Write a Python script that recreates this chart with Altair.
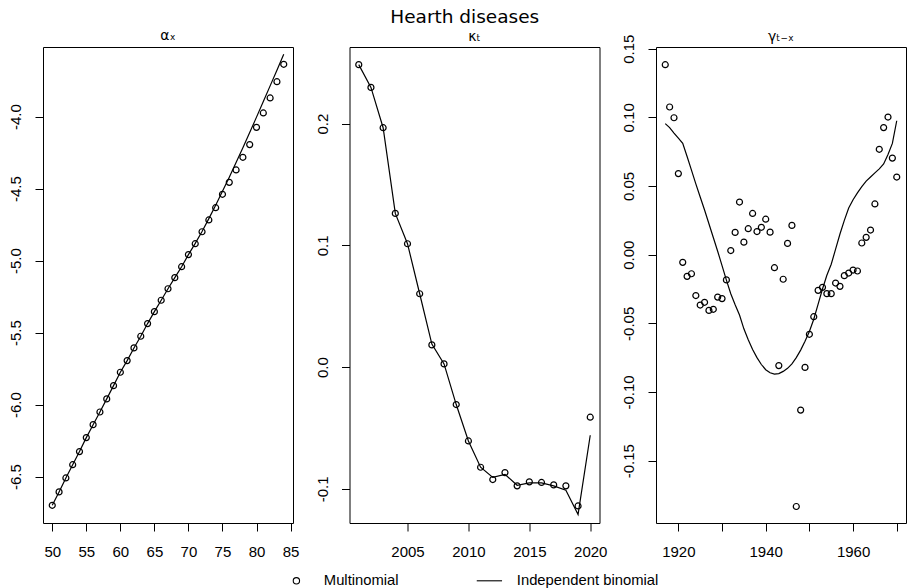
import altair as alt
import pandas as pd

# ---- data ----
ages = list(range(50, 85))
alpha_multinomial = [-6.699, -6.606, -6.509, -6.417, -6.326, -6.229, -6.139, -6.051, -5.960, -5.868,
                     -5.775, -5.694, -5.606, -5.525, -5.437, -5.354, -5.275, -5.195, -5.118, -5.042,
                     -4.958, -4.882, -4.799, -4.717, -4.632, -4.539, -4.456, -4.370, -4.282, -4.194,
                     -4.074, -3.974, -3.870, -3.757, -3.636]
alpha_binomial = [-6.699, -6.606, -6.509, -6.417, -6.326, -6.229, -6.139, -6.051, -5.960, -5.868,
                  -5.775, -5.694, -5.606, -5.525, -5.437, -5.354, -5.275, -5.195, -5.118, -5.042,
                  -4.958, -4.880, -4.797, -4.708, -4.615, -4.518, -4.420, -4.318, -4.215, -4.110,
                  -4.003, -3.895, -3.786, -3.677, -3.567]

years = list(range(2001, 2021))
kappa_multinomial = [0.2485, 0.2298, 0.1967, 0.1263, 0.1014, 0.0603, 0.0183, 0.0027, -0.0307, -0.0606,
                     -0.0822, -0.0923, -0.0866, -0.0975, -0.0942, -0.0947, -0.0967, -0.0975, -0.1140, -0.0411]
kappa_binomial = [0.2485, 0.2298, 0.1967, 0.1263, 0.1014, 0.0603, 0.0190, 0.0027, -0.0307, -0.0606,
                  -0.0822, -0.0905, -0.0880, -0.0970, -0.0950, -0.0950, -0.0975, -0.1010, -0.1210, -0.0559]

cohorts = list(range(1917, 1971))
gamma_multinomial = [0.1383, 0.1075, 0.0997, 0.0590, -0.0056, -0.0158, -0.0139, -0.0298, -0.0367, -0.0347,
                     -0.0406, -0.0398, -0.0309, -0.0320, -0.0184, 0.0030, 0.0162, 0.0383, 0.0091, 0.0189,
                     0.0300, 0.0168, 0.0199, 0.0258, 0.0164, -0.0095, -0.0808, -0.0179, 0.0082, 0.0213,
                     -0.1834, -0.1132, -0.0821, -0.0580, -0.0452, -0.0260, -0.0238, -0.0284, -0.0284, -0.0207,
                     -0.0231, -0.0153, -0.0134, -0.0112, -0.0119, 0.0085, 0.0126, 0.0179, 0.0369, 0.0767,
                     0.0925, 0.1002, 0.0703, 0.0565]
gamma_binomial = [0.0954, 0.0925, 0.0885, 0.0848, 0.0810, 0.0715, 0.0615, 0.0515, 0.0420, 0.0325,
                  0.0225, 0.0125, 0.0025, -0.0080, -0.0185, -0.0285, -0.0365, -0.0440, -0.0540, -0.0620,
                  -0.0690, -0.0750, -0.0800, -0.0838, -0.0860, -0.0870, -0.0866, -0.0850, -0.0828, -0.0795,
                  -0.0750, -0.0695, -0.0630, -0.0560, -0.0470, -0.0360, -0.0250, -0.0150, -0.0070, 0.0040,
                  0.0150, 0.0250, 0.0340, 0.0400, 0.0450, 0.0495, 0.0535, 0.0565, 0.0595, 0.0625,
                  0.0660, 0.0730, 0.0810, 0.0975]

SERIES = ["Multinomial", "Independent binomial"]
MINUS_FIX = "replace(datum.label, '\u2212', '-')"

shape_scale = alt.Scale(domain=SERIES, range=["circle", "M-4,0L4,0"])
legend = alt.Legend(
    title=None, orient="none", legendX=246, legendY=526, direction="horizontal",
    symbolSize=40, symbolStrokeWidth=1.1, symbolStrokeColor="black", symbolFillColor="transparent",
    labelFont="Liberation Sans", labelFontSize=14.8, labelColor="black", labelOffset=20,
    columnPadding=75, padding=0,
)

AXIS_COMMON = dict(title=None, grid=False, domain=False, ticks=True, tickColor="black", tickWidth=1,
                   tickSize=8, labelFont="Liberation Sans", labelFontSize=15, labelColor="black",
                   labelOverlap=False, labelFlush=False)


def panel(xv, multi, binom, xdom, ydom, xticks, yticks, yfmt, title, toff, xexpr=None):
    dm = pd.DataFrame({"x": xv, "y": multi, "series": SERIES[0]})
    db = pd.DataFrame({"x": xv, "y": binom, "series": SERIES[1]})
    xaxis = dict(AXIS_COMMON, values=xticks, format="d", labelBaseline="middle", labelPadding=20)
    if xexpr:
        xaxis["labelExpr"] = xexpr
    x = alt.X("x:Q", scale=alt.Scale(domain=xdom, nice=False, zero=False), axis=alt.Axis(**xaxis))
    y = alt.Y("y:Q", scale=alt.Scale(domain=ydom, nice=False, zero=False),
              axis=alt.Axis(**AXIS_COMMON, values=yticks, format=yfmt, labelAngle=270, labelAlign="center",
                            labelBaseline="middle", labelPadding=19.5, labelExpr=MINUS_FIX))
    line = alt.Chart(db).mark_line(color="black", strokeWidth=1.2).encode(x=x, y=y)
    pts = alt.Chart(dm).mark_point(filled=False, color="black", size=36, strokeWidth=1.2, opacity=1).encode(
        x=x, y=y, shape=alt.Shape("series:N", scale=shape_scale, legend=legend))
    return alt.layer(line, pts).properties(
        width=250, height=476,
        title=alt.TitleParams(title, font="DejaVu Sans", fontSize=14, fontWeight="normal",
                              color="black", offset=toff, baseline="alphabetic"))


p1 = panel(ages, alpha_multinomial, alpha_binomial, [48.64, 85.36], [-6.822, -3.516],
           [50, 55, 60, 65, 70, 75, 80, 85], [-6.5, -6.0, -5.5, -5.0, -4.5, -4.0], ".1f", "αₓ", -7)
p2 = panel(years, kappa_multinomial, kappa_binomial, [2000.24, 2020.76], [-0.128, 0.263],
           [2005, 2010, 2015, 2020], [-0.1, 0.0, 0.1, 0.2], ".1f", "κₜ", -8)
p3 = panel(cohorts, gamma_multinomial, gamma_binomial, [1914.88, 1972.12], [-0.1954, 0.1512],
           [1920, 1930, 1940, 1950, 1960, 1970], [-0.15, -0.10, -0.05, 0.0, 0.05, 0.10, 0.15], ".2f",
           "γₜ₋ₓ", -21, xexpr="datum.value % 20 == 0 ? datum.label : ''")

chart = alt.hconcat(p1, p2, p3, spacing=56.5, bounds="flush").properties(
    title=alt.TitleParams("Hearth diseases", font="DejaVu Sans", fontSize=18.5, fontWeight="normal",
                          color="black", anchor="middle", dx=7.5, offset=2),
    padding={"left": 8, "top": 8, "right": 0, "bottom": 0},
    background="white",
).configure_view(stroke="black", strokeWidth=1)

chart.save("out.html", embed_options={"renderer": "svg", "actions": False})
